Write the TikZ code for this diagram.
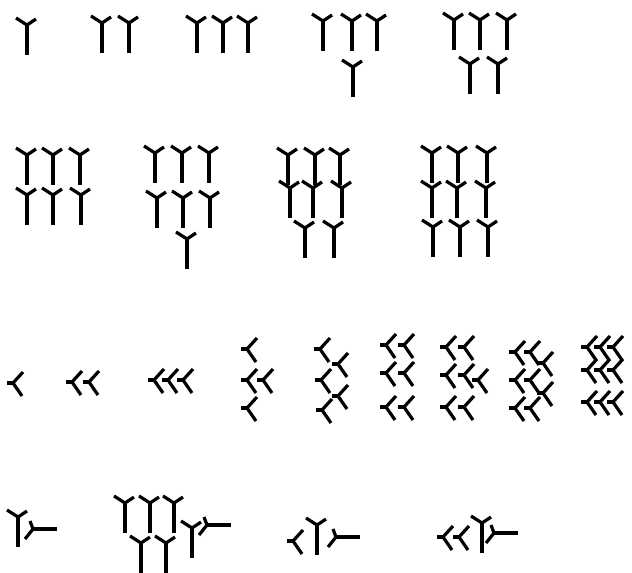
\documentclass[tikz,border=0pt]{standalone}
\usepackage{tikz}
\tikzset{
    trazo/.style={line width=3.2pt, line cap=butt, line join=round, black},
    % cuna vertical (unidades)
    vwedge/.pic={
        \draw[trazo] (-11,-7) -- (0,0) -- (9,-6);
        \draw[trazo] (0,0) -- (0,30);
    },
    % cuna angular (decenas)
    cwedge/.pic={
        \draw[trazo] (10,-11) -- (0,0) -- (9,13);
        \draw[trazo] (0,0) -- (-6,0);
    },
    % cuna horizontal
    hwedge/.pic={
        \draw[trazo] (-3,-8) -- (0,0) -- (-8,10);
        \draw[trazo] (0,0) -- (24,0);
    }
}

\begin{document}
\begin{tikzpicture}[x=1pt, y=-1pt]
    \useasboundingbox (0,0) rectangle (632,573);

    % 1. Fila superior: 1 a 5
    \pic at (27,25) {vwedge};
    \foreach \px in {102,129} \pic at (\px,23) {vwedge};
    \foreach \px in {197,223,248} \pic at (\px,23) {vwedge};
    \foreach \px/\py in {323/21, 352/21, 377/21, 353/67} \pic at (\px,\py) {vwedge};
    \foreach \px/\py in {454/20, 480/20, 507/20, 470/64, 498/64} \pic at (\px,\py) {vwedge};

    % 2. Segunda fila: 6 a 9
    \foreach \px/\py in {27/155, 53/155, 80/155, 27/195, 53/195, 81/195} \pic at (\px,\py) {vwedge};
    \foreach \px/\py in {155/153, 182/153, 209/153, 157/198, 183/198, 210/198, 187/239} \pic at (\px,\py) {vwedge};
    \foreach \px/\py in {288/155, 315/155, 340/155, 290/188, 313/188, 342/188, 305/228, 334/228} \pic at (\px,\py) {vwedge};
    \foreach \px/\py in {432/153, 458/153, 487/153, 432/188, 457/188, 486/188, 433/227, 460/227, 488/227} \pic at (\px,\py) {vwedge};

    % 3. Tercera fila: decenas 10 a 90
    \pic at (13,383) {cwedge};
    \foreach \px in {72,89} \pic at (\px,382) {cwedge};
    \foreach \px in {154,168,183} \pic at (\px,380) {cwedge};
    \foreach \px/\py in {247/349, 247/380, 263/380, 247/408} \pic at (\px,\py) {cwedge};
    \foreach \px/\py in {320/349, 338/364, 321/380, 338/396, 322/410} \pic at (\px,\py) {cwedge};
    \foreach \px/\py in {386/345, 404/345, 386/373, 404/373, 386/407, 404/407} \pic at (\px,\py) {cwedge};
    \foreach \px/\py in {446/347, 464/347, 446/375, 464/375, 478/380, 446/407, 464/407} \pic at (\px,\py) {cwedge};
    \foreach \px/\py in {515/352, 530/352, 515/380, 530/380, 515/408, 530/408, 543/363, 543/393} \pic at (\px,\py) {cwedge};
    \foreach \py in {347,370,402} {
        \foreach \px in {587,600,613} \pic at (\px,\py) {cwedge};
    }

    % 4. Fila inferior: combinaciones con cuna horizontal
    \pic at (18,517) {vwedge};
    \pic at (33,529) {hwedge};

    \foreach \px/\py in {125/503, 150/503, 174/503, 141/543, 166/543, 192/528} \pic at (\px,\py) {vwedge};
    \pic at (207,525) {hwedge};

    \pic at (293,541) {cwedge};
    \pic at (317,525) {vwedge};
    \pic at (336,537) {hwedge};

    \foreach \px in {443,459} \pic at (\px,537) {cwedge};
    \pic at (482,523) {vwedge};
    \pic at (494,533) {hwedge};

\end{tikzpicture}
\end{document}
